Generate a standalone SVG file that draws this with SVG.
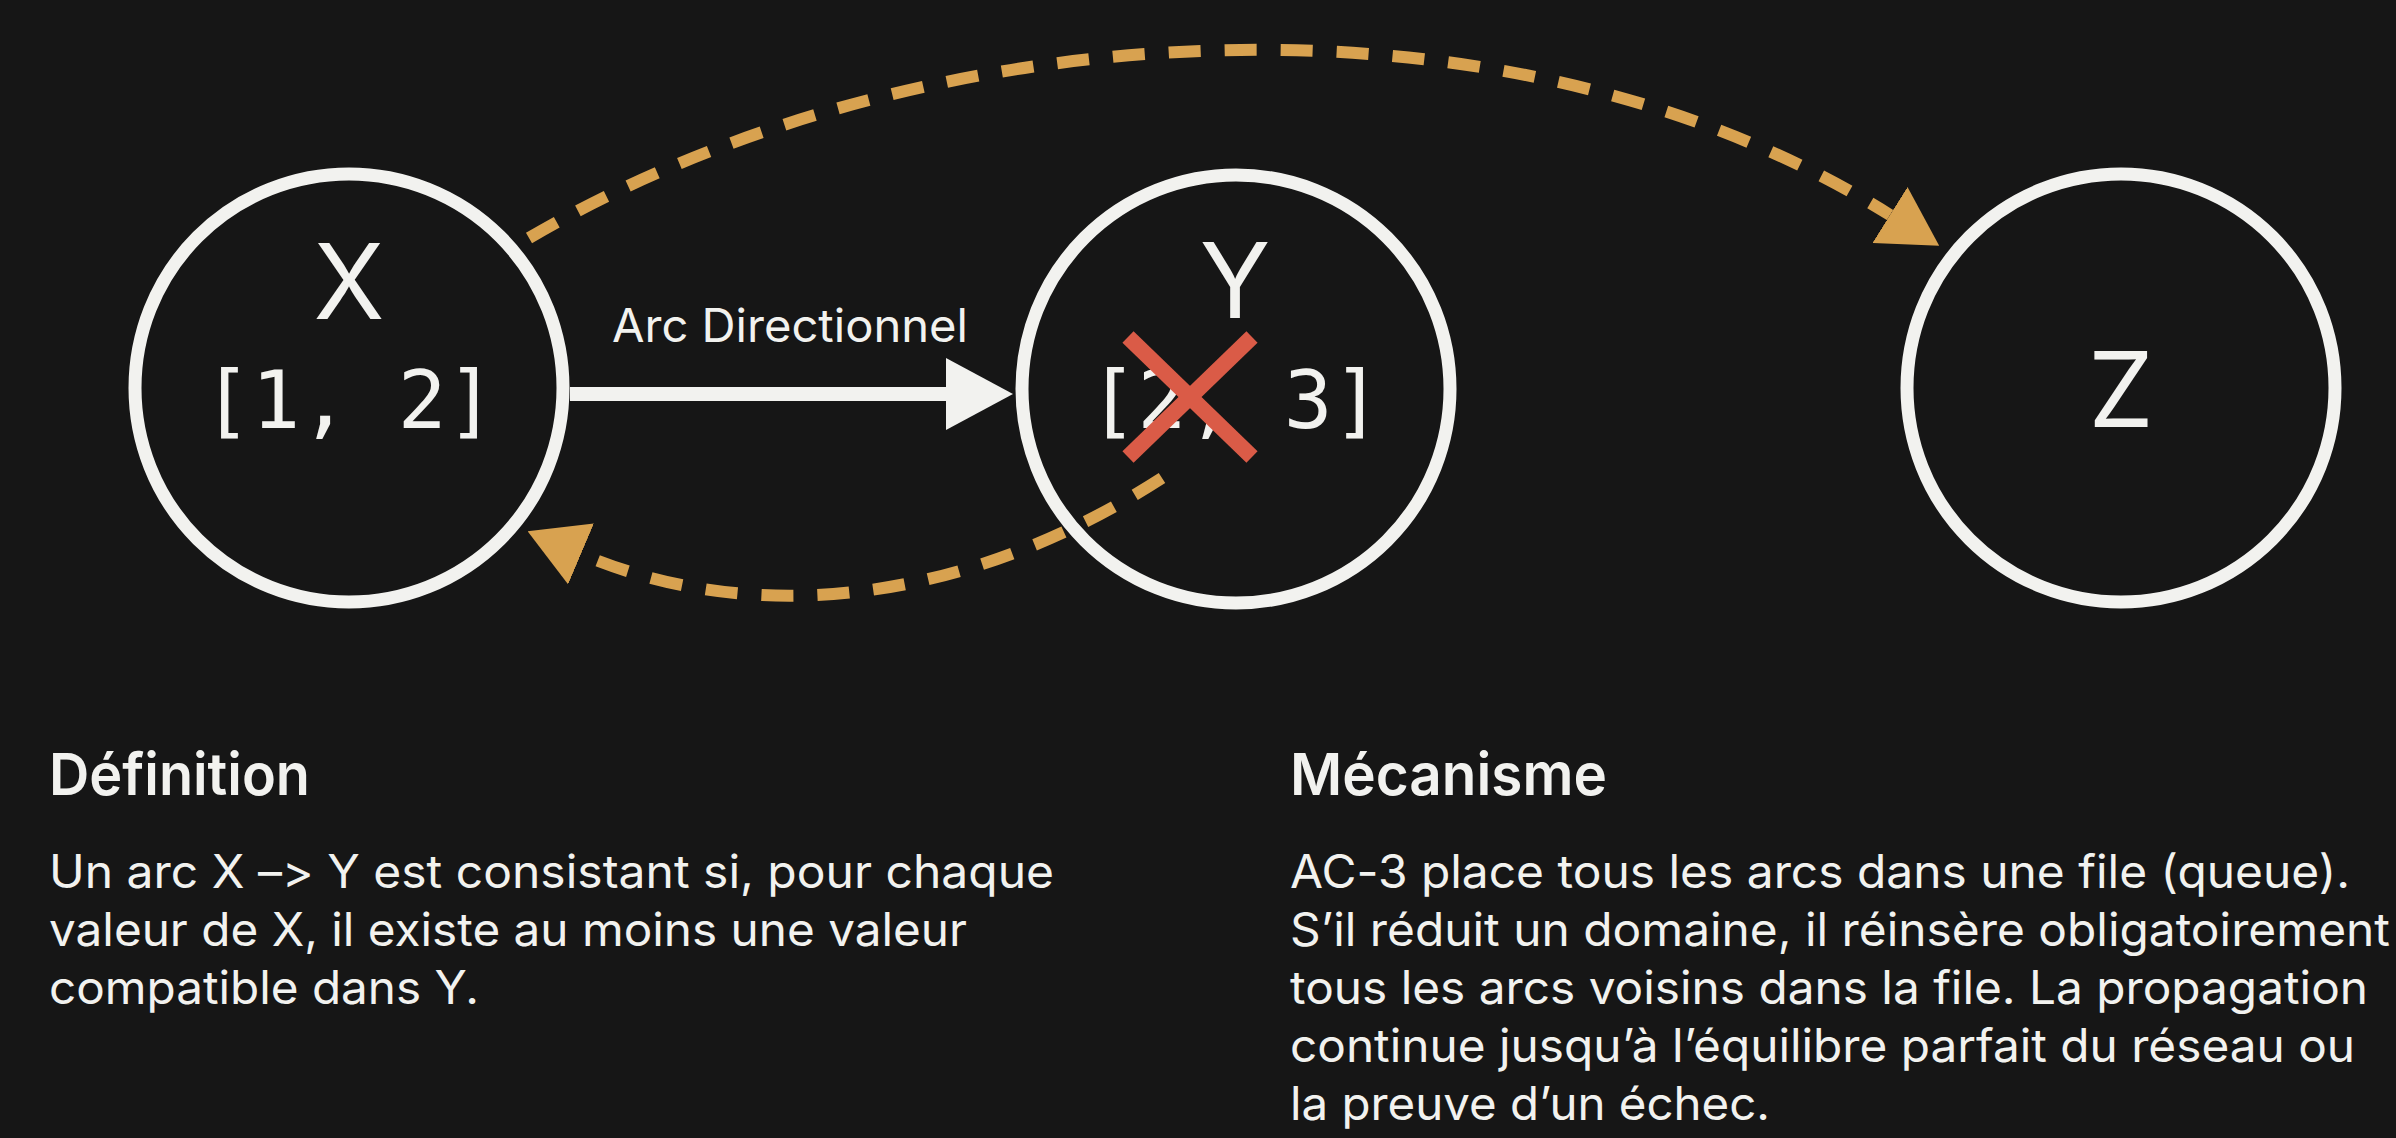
<svg xmlns="http://www.w3.org/2000/svg" width="2396" height="1138" viewBox="0 0 2396 1138">
  <style>
    .node { fill: #161616; stroke: #F2F2EF; stroke-width: 13; }
    .lbl { font-family: Inter, "Noto Sans", "Liberation Sans", sans-serif; font-size: 104px; fill: #F2F2EF; text-anchor: middle; }
    .dom { font-family: "DejaVu Sans Mono", "Liberation Mono", monospace; font-size: 81px; fill: #F2F2EF; text-anchor: middle; }
    .head { font-family: Inter, "Noto Sans", "Liberation Sans", sans-serif; font-size: 58px; font-weight: 600; fill: #F2F2EF; }
    .body { font-family: Inter, "Noto Sans", "Liberation Sans", sans-serif; font-size: 46px; fill: #F2F2EF; font-feature-settings: "calt" 0; font-variant-ligatures: no-contextual; }
    .arclbl { font-family: Inter, "Noto Sans", "Liberation Sans", sans-serif; font-size: 46px; fill: #F2F2EF; }
    .dash { fill: none; stroke: #D8A250; stroke-width: 12; stroke-dasharray: 32 24; }
    .solid { fill: none; stroke: #F2F2EF; stroke-width: 14; }
    .cross { stroke: #DA5B47; stroke-width: 16; }
  </style>
  <defs>
    <marker id="goldHead" viewBox="0 0 58 66" refX="0" refY="33" markerWidth="58" markerHeight="66" markerUnits="userSpaceOnUse" orient="auto">
      <path d="M0,0 L58,33 L0,66 Z" fill="#D8A250"/>
    </marker>
    <marker id="whiteHead" viewBox="0 0 67 72" refX="0" refY="36" markerWidth="67" markerHeight="72" markerUnits="userSpaceOnUse" orient="auto">
      <path d="M0,0 L67,36 L0,72 Z" fill="#F2F2EF"/>
    </marker>
  </defs>
  <rect x="0" y="0" width="2396" height="1138" fill="#161616"/>

  <g id="node-X">
    <circle class="node" cx="349" cy="388" r="214"/>
    <text class="lbl" x="349" y="319">X</text>
    <text class="dom" x="349" y="428">[1, 2]</text>
  </g>

  <g id="node-Y">
    <circle class="node" cx="1236" cy="389" r="214"/>
    <text class="lbl" x="1235" y="318">Y</text>
    <text class="dom" x="1235" y="428">[2, 3]</text>
    <line class="cross" x1="1128" y1="337" x2="1252" y2="457"/>
    <line class="cross" x1="1252" y1="337" x2="1128" y2="457"/>
  </g>

  <g id="node-Z">
    <circle class="node" cx="2121" cy="388" r="214"/>
    <text class="lbl" x="2121" y="427">Z</text>
  </g>

  <g id="connectors">
    <line class="solid" x1="570" y1="394" x2="946" y2="394" marker-end="url(#whiteHead)"/>
    <text class="arclbl" x="612" y="342" textLength="356" lengthAdjust="spacingAndGlyphs">Arc Directionnel</text>
    <path class="dash" d="M529,238 C900,20 1490,-35 1890,215" marker-end="url(#goldHead)"/>
    <path class="dash" d="M1162,478 C977,597 765,632 581,554" marker-end="url(#goldHead)"/>
  </g>

  <g id="definition">
    <text class="head" x="49" y="795" textLength="261" lengthAdjust="spacingAndGlyphs">Définition</text>
    <text class="body" x="49" y="888" textLength="1005" lengthAdjust="spacingAndGlyphs">Un arc X –&gt; Y est consistant si, pour chaque</text>
    <text class="body" x="49" y="946" textLength="918" lengthAdjust="spacingAndGlyphs">valeur de X, il existe au moins une valeur</text>
    <text class="body" x="49" y="1004" textLength="430" lengthAdjust="spacingAndGlyphs">compatible dans Y.</text>
  </g>

  <g id="mecanisme">
    <text class="head" x="1290" y="795" textLength="317" lengthAdjust="spacingAndGlyphs">Mécanisme</text>
    <text class="body" x="1290" y="888" textLength="1060" lengthAdjust="spacingAndGlyphs">AC-3 place tous les arcs dans une file (queue).</text>
    <text class="body" x="1290" y="946" textLength="1100" lengthAdjust="spacingAndGlyphs">S’il réduit un domaine, il réinsère obligatoirement</text>
    <text class="body" x="1290" y="1004" textLength="1078" lengthAdjust="spacingAndGlyphs">tous les arcs voisins dans la file. La propagation</text>
    <text class="body" x="1290" y="1062" textLength="1065" lengthAdjust="spacingAndGlyphs">continue jusqu’à l’équilibre parfait du réseau ou</text>
    <text class="body" x="1290" y="1120" textLength="480" lengthAdjust="spacingAndGlyphs">la preuve d’un échec.</text>
  </g>
</svg>
